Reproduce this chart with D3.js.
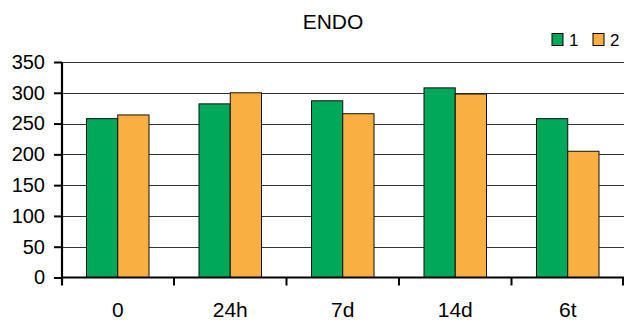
<!DOCTYPE html>
<html>
<head>
<meta charset="utf-8">
<script src="https://cdn.jsdelivr.net/npm/d3@7/dist/d3.min.js"></script>
<style>
  html, body { margin: 0; padding: 0; background: #fff; }
  svg { display: block; font-family: "Liberation Sans", Arial, sans-serif; }
</style>
</head>
<body>
<svg id="chart" width="624" height="322"></svg>
<script>
// Categories and the two series
const categories = ["0", "24h", "7d", "14d", "6t"];
const seriesNames = ["1", "2"];
const series1 = [258, 282, 287, 308, 258];
const series2 = [264, 300, 266, 298, 205];
const yTicks = [0, 50, 100, 150, 200, 250, 300, 350];
const colors = ["#00a859", "#f9b040"];

const svg = d3.select("#chart");
const plotLeft = 62, plotRight = 624, plotTop = 62, plotBottom = 277.5;

const x = d3.scaleBand().domain(categories).range([plotLeft - 0.5, plotRight]).padding(0);
const inner = d3.scaleBand().domain(seriesNames)
  .range([25, x.bandwidth() - 25]).padding(0);
const y = d3.scaleLinear().domain([0, 350]).range([plotBottom, plotTop]);

// Title
svg.append("text")
  .attr("x", 333).attr("y", 29)
  .attr("text-anchor", "middle")
  .attr("font-size", 21)
  .text("ENDO");

// Legend
const legend = svg.append("g");
const legendX = [552, 593];
seriesNames.forEach((name, i) => {
  legend.append("rect")
    .attr("x", legendX[i]).attr("y", 33.5)
    .attr("width", 11).attr("height", 12)
    .attr("fill", colors[i]).attr("stroke", "#000").attr("stroke-width", 1);
  legend.append("text")
    .attr("x", legendX[i] + 17).attr("y", 46)
    .attr("font-size", 17)
    .text(name);
});

// Horizontal gridlines
svg.append("g").selectAll("line")
  .data(yTicks.filter(d => d > 0))
  .join("line")
  .attr("x1", plotLeft).attr("x2", plotRight)
  .attr("y1", d => Math.round(y(d)) + 0.5).attr("y2", d => Math.round(y(d)) + 0.5)
  .attr("stroke", "#333").attr("stroke-width", 1.2);

// Bars
const rows = categories.map((c, i) => ({ c, vals: [series1[i], series2[i]] }));
const groups = svg.append("g").selectAll("g")
  .data(rows).join("g")
  .attr("transform", d => `translate(${x(d.c)},0)`);
groups.selectAll("rect")
  .data(d => d.vals.map((v, i) => ({ name: seriesNames[i], v, i })))
  .join("rect")
  .attr("x", d => inner(d.name))
  .attr("y", d => y(d.v))
  .attr("width", inner.bandwidth())
  .attr("height", d => y(0) - y(d.v))
  .attr("fill", d => colors[d.i])
  .attr("stroke", "#111").attr("stroke-width", 1);

// Y axis
const yAxis = svg.append("g")
  .attr("transform", `translate(${plotLeft},0)`)
  .call(d3.axisLeft(y).tickValues(yTicks).tickSize(8).tickPadding(9));
yAxis.select(".domain").attr("stroke", "#000").attr("stroke-width", 2.2)
  .attr("d", `M0,${plotTop}V${plotBottom + 8}`);
yAxis.selectAll(".tick line").attr("stroke", "#000").attr("stroke-width", 2);
yAxis.selectAll(".tick text").attr("font-size", 20).attr("fill", "#000")
  .attr("font-family", "Liberation Sans, Arial, sans-serif");

// X axis: category labels centred in bands, ticks on band boundaries
const xAxis = svg.append("g")
  .attr("transform", `translate(0,${plotBottom})`)
  .call(d3.axisBottom(x).tickSize(0));
xAxis.select(".domain").attr("stroke", "#000").attr("stroke-width", 2.2)
  .attr("d", `M${plotLeft - 1},0H${plotRight}`);
xAxis.selectAll(".tick text")
  .attr("font-size", 21).attr("fill", "#000")
  .attr("font-family", "Liberation Sans, Arial, sans-serif")
  .attr("y", 39.3).attr("dy", null);
xAxis.append("g").selectAll("line")
  .data(categories.slice(1).map(c => x(c)).concat([plotRight - 1]))
  .join("line")
  .attr("x1", d => d).attr("x2", d => d)
  .attr("y1", 0).attr("y2", 8)
  .attr("stroke", "#000").attr("stroke-width", 2);
</script>
</body>
</html>
